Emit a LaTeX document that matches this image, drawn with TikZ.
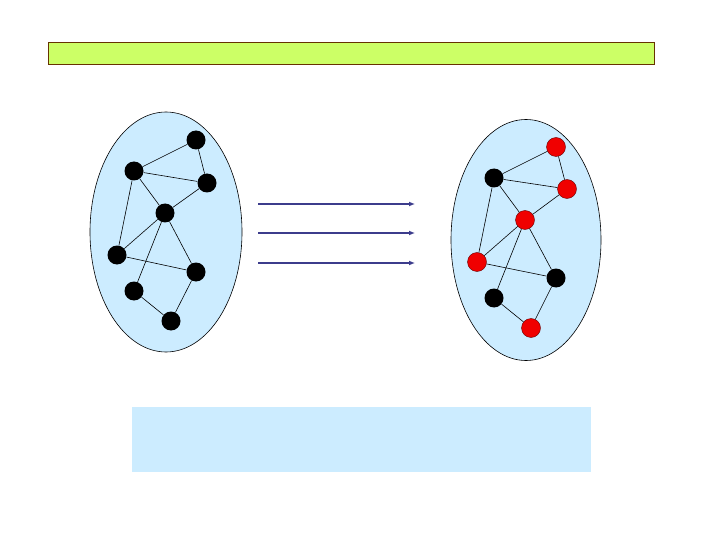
\documentclass[tikz,border=0pt]{standalone}
\usetikzlibrary{arrows.meta}
\definecolor{barfill}{RGB}{204,255,102}
\definecolor{barline}{RGB}{102,51,0}
\definecolor{paleblue}{RGB}{204,236,255}
\definecolor{arrowblue}{RGB}{60,60,140}
\definecolor{nodered}{RGB}{240,0,0}
\tikzset{
  vtx/.style={circle,fill=black,inner sep=0pt,minimum size=19pt},
  rvtx/.style={circle,fill=nodered,draw=black!60!red,line width=0.4pt,inner sep=0pt,minimum size=19pt},
  edge/.style={draw=black,line width=0.6pt},
  blob/.style={ellipse,draw=black,line width=0.6pt,fill=paleblue},
  flow/.style={draw=arrowblue,line width=1.3pt,-{Latex[length=6pt,width=5pt]}}
}
\usetikzlibrary{shapes.geometric}
\begin{document}
\begin{tikzpicture}[x=1pt,y=-1pt]
\useasboundingbox (0,0) rectangle (720,540);
\fill[white] (0,0) rectangle (720,540);
% top bar
\node[draw=barline,fill=barfill,line width=0.8pt,minimum width=606pt,minimum height=22pt,inner sep=0pt] (bar) at (351,53) {};
% bottom box
\node[fill=paleblue,minimum width=459pt,minimum height=65pt,inner sep=0pt] (box) at (361.5,439.5) {};
% left graph
\node[blob,minimum width=152pt,minimum height=240pt,inner sep=0pt] (L) at (166,232) {};
\node[vtx] (la) at (196,140) {};
\node[vtx] (lb) at (134,171) {};
\node[vtx] (lc) at (207,183) {};
\node[vtx] (ld) at (165,213) {};
\node[vtx] (le) at (117,255) {};
\node[vtx] (lf) at (196,272) {};
\node[vtx] (lg) at (134,291) {};
\node[vtx] (lh) at (171,321) {};
\begin{scope}[on background layer/.style={}]
\end{scope}
% right graph
\node[blob,minimum width=150pt,minimum height=241pt,inner sep=0pt] (R) at (526,240) {};
\node[rvtx] (ra) at (556,147) {};
\node[vtx] (rb) at (494,178) {};
\node[rvtx] (rc) at (567,189) {};
\node[rvtx] (rd) at (525,220) {};
\node[rvtx] (re) at (477,262) {};
\node[vtx] (rf) at (556,278) {};
\node[vtx] (rg) at (494,298) {};
\node[rvtx] (rh) at (531,328) {};
\foreach \p in {l,r}{
  \draw[edge] (\p a) -- (\p b);
  \draw[edge] (\p a) -- (\p c);
  \draw[edge] (\p b) -- (\p c);
  \draw[edge] (\p b) -- (\p d);
  \draw[edge] (\p c) -- (\p d);
  \draw[edge] (\p b) -- (\p e);
  \draw[edge] (\p d) -- (\p e);
  \draw[edge] (\p d) -- (\p g);
  \draw[edge] (\p d) -- (\p f);
  \draw[edge] (\p e) -- (\p f);
  \draw[edge] (\p g) -- (\p h);
  \draw[edge] (\p f) -- (\p h);
}
% arrows
\coordinate (s1) at (258,204); \coordinate (t1) at (415,204);
\coordinate (s2) at (258,233); \coordinate (t2) at (415,233);
\coordinate (s3) at (258,263); \coordinate (t3) at (415,263);
\draw[flow] (s1) -- (t1);
\draw[flow] (s2) -- (t2);
\draw[flow] (s3) -- (t3);
\end{tikzpicture}
\end{document}
